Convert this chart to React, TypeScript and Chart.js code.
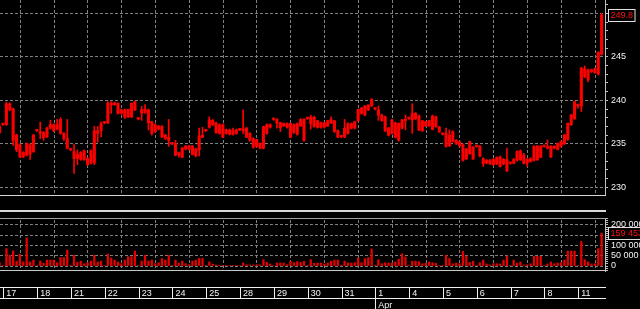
import React, { useEffect, useRef } from 'react';
import { Chart, registerables } from 'chart.js';

Chart.register(...registerables);

// ---- categories / tick labels ----
const dayLabels = ['17', '18', '21', '22', '23', '24', '25', '28', '29', '30', '31', '1', '4', '5', '6', '7', '8', '11'];
const monthLabels = ['', '', '', '', '', '', '', '', '', '', '', 'Apr', '', '', '', '', '', ''];
const BARS_PER_DAY = 10;
const FIRST_DAY_BAR = 1;
const priceGridValues = [230, 235, 240, 245, 250];
const priceLabels = [230, 235, 240, 245];
const volumeGridValues = [0, 50000, 100000, 150000, 200000];
const volumeLabels = [0, 50000, 100000, 200000];

// ---- series (hourly bars) ----
const open = [236.3,
  237.2, 237.2, 239.6, 239.0, 236.0, 234.9, 234.0, 233.7, 234.9, 234.1,
  236.5, 236.2, 236.3, 235.8, 236.8, 237.2, 236.7, 236.2, 236.2, 235.6,
  234.3, 234.1, 233.3, 234.0, 233.2, 233.3, 232.8, 232.8, 236.5, 236.5,
  237.4, 237.4, 239.5, 239.7, 239.65, 238.9, 238.9, 238.1, 238.1, 238.9,
  237.85, 238.5, 238.95, 238.9, 237.55, 236.4, 237.05, 237.0, 236.0, 235.75,
  235.0, 235.05, 233.7, 234.5, 234.4, 234.75, 234.75, 233.6, 234.3, 235.75,
  236.5, 236.9, 237.7, 237.4, 236.2, 237.2, 236.2, 236.6, 236.1, 236.6,
  236.6, 236.5, 236.8, 236.2, 235.6, 234.7, 235.05, 234.5, 237.2, 236.9,
  237.8, 237.8, 237.4, 237.05, 237.3, 237.35, 236.3, 236.1, 237.05, 237.8,
  237.9, 237.3, 238.05, 237.65, 236.9, 237.4, 237.05, 237.4, 237.65, 236.5,
  235.8, 235.75, 236.2, 237.3, 236.8, 237.65, 238.5, 238.3, 238.9, 239.35,
  239.0, 238.9, 238.3, 238.1, 236.8, 236.2, 237.4, 235.4, 237.75, 237.65,
  237.9, 237.75, 238.5, 238.2, 236.5, 237.55, 237.05, 236.65, 238.1, 236.95,
  236.1, 236.2, 234.75, 236.4, 235.4, 235.25, 234.9, 233.25, 233.85, 234.6,
  234.7, 234.75, 233.3, 232.8, 233.15, 232.6, 233.45, 232.4, 233.2, 233.2,
  232.75, 232.75, 233.1, 234.2, 232.75, 233.2, 232.95, 233.1, 234.75, 233.45,
  234.7, 234.5, 234.7, 234.5, 234.35, 234.7, 235.0, 235.5, 237.2, 237.9,
  239.35, 239.35, 243.6, 242.35, 243.3, 243.2, 243.0, 245.3];

const high = [237.1,
  237.3, 239.8, 239.7, 239.1, 236.1, 235.0, 234.1, 235.1, 235.0, 236.1,
  236.6, 237.5, 236.4, 236.9, 237.7, 237.3, 237.8, 238.0, 236.3, 237.8,
  234.4, 234.9, 234.3, 234.1, 234.3, 233.4, 234.3, 237.0, 237.0, 237.5,
  237.5, 239.85, 239.85, 239.8, 239.7, 239.0, 239.0, 239.0, 239.7, 239.9,
  237.95, 239.3, 239.5, 239.0, 237.6, 237.3, 237.1, 237.1, 236.1, 237.8,
  235.1, 235.4, 234.0, 234.6, 234.8, 234.8, 234.8, 234.5, 236.8, 236.9,
  236.6, 238.1, 237.8, 237.5, 237.3, 237.3, 236.7, 236.7, 236.8, 236.7,
  236.7, 238.9, 236.9, 236.3, 235.7, 235.5, 235.1, 237.0, 237.3, 237.3,
  237.9, 237.9, 237.5, 237.4, 237.4, 237.4, 237.3, 237.4, 237.9, 237.9,
  238.0, 238.3, 238.2, 237.7, 237.5, 237.5, 237.7, 238.1, 237.7, 236.6,
  235.9, 237.8, 237.4, 237.4, 237.6, 239.0, 239.2, 239.4, 239.5, 240.2,
  239.1, 239.35, 238.4, 238.2, 236.9, 237.8, 237.5, 237.4, 237.8, 238.3,
  238.0, 239.6, 238.6, 238.3, 237.7, 237.6, 237.7, 238.3, 238.2, 237.0,
  236.2, 236.8, 236.6, 236.5, 235.5, 235.3, 235.0, 234.5, 235.3, 234.7,
  234.8, 234.8, 233.4, 233.2, 233.2, 233.3, 233.5, 233.6, 233.3, 234.5,
  232.85, 233.3, 234.2, 234.3, 233.9, 233.3, 233.4, 234.8, 234.8, 234.8,
  234.8, 235.45, 234.8, 234.8, 235.1, 235.3, 236.1, 237.4, 238.4, 239.9,
  239.6, 243.8, 243.95, 243.6, 243.6, 243.7, 245.6, 250.0];

const low = [236.2,
  237.1, 237.1, 238.8, 234.8, 234.1, 233.4, 233.4, 233.6, 233.2, 234.0,
  236.4, 235.6, 235.4, 235.7, 236.7, 236.4, 236.6, 236.1, 235.4, 234.4,
  234.2, 231.6, 232.6, 233.1, 233.1, 232.5, 232.7, 232.6, 235.2, 235.8,
  237.3, 237.3, 238.5, 239.4, 238.4, 238.4, 237.9, 238.0, 238.0, 238.8,
  237.75, 237.7, 238.5, 236.6, 236.0, 236.3, 236.6, 235.7, 235.5, 234.7,
  234.9, 233.6, 233.45, 233.4, 234.3, 234.3, 233.7, 233.5, 233.6, 235.7,
  236.4, 236.8, 237.1, 236.2, 236.1, 235.7, 236.1, 236.0, 236.0, 236.1,
  236.5, 236.2, 235.7, 235.3, 234.5, 234.6, 234.4, 234.4, 236.1, 236.8,
  237.7, 236.8, 236.4, 237.0, 236.8, 235.7, 236.2, 236.0, 237.0, 235.3,
  237.8, 236.7, 236.9, 236.8, 236.8, 236.8, 237.0, 237.3, 236.3, 235.7,
  235.7, 235.7, 236.1, 236.7, 236.7, 237.6, 238.4, 238.2, 238.8, 239.3,
  238.9, 237.7, 237.6, 236.4, 235.9, 236.1, 235.7, 235.3, 236.7, 236.6,
  237.8, 236.2, 237.8, 236.5, 236.4, 237.0, 237.0, 236.6, 236.9, 236.3,
  236.0, 234.6, 234.7, 235.2, 234.9, 234.7, 233.0, 233.2, 233.8, 233.2,
  234.6, 233.5, 232.4, 232.7, 232.6, 232.5, 232.6, 232.3, 232.6, 231.8,
  232.65, 232.7, 233.0, 233.1, 232.7, 232.4, 232.9, 233.0, 233.1, 233.4,
  234.6, 234.4, 233.4, 234.4, 234.3, 234.6, 234.9, 235.4, 237.1, 237.8,
  239.1, 238.7, 242.6, 242.15, 243.2, 243.1, 242.9, 245.2];

const close = [237.0,
  237.2, 239.6, 238.9, 235.4, 234.3, 233.5, 233.5, 235.0, 233.8, 236.0,
  236.5, 236.3, 235.7, 236.8, 237.2, 236.5, 237.2, 237.8, 235.6, 234.5,
  234.3, 233.3, 233.8, 233.2, 234.2, 232.6, 234.2, 236.5, 236.2, 237.3,
  237.4, 239.65, 239.65, 239.5, 238.5, 238.5, 238.05, 238.95, 239.65, 239.85,
  237.85, 238.95, 238.6, 237.4, 236.2, 237.2, 236.7, 235.8, 235.6, 235.4,
  235.0, 233.7, 234.0, 233.45, 234.75, 234.4, 233.8, 234.4, 235.9, 236.0,
  236.5, 237.75, 237.2, 236.3, 237.2, 235.75, 236.6, 236.1, 236.5, 236.2,
  236.6, 236.7, 235.75, 235.4, 234.6, 235.5, 234.5, 237.0, 236.2, 237.2,
  237.8, 237.4, 236.85, 237.35, 236.9, 235.75, 237.2, 237.3, 237.8, 235.4,
  237.9, 238.05, 237.0, 236.9, 237.4, 236.9, 237.65, 237.8, 236.4, 235.75,
  235.8, 236.8, 237.3, 236.8, 237.55, 238.95, 239.1, 239.35, 239.45, 240.1,
  239.0, 238.3, 237.65, 236.5, 236.0, 237.75, 235.75, 237.35, 236.8, 237.65,
  237.9, 238.5, 237.85, 236.6, 237.65, 237.05, 237.65, 238.2, 236.95, 236.4,
  236.1, 234.7, 236.0, 235.25, 235.0, 234.75, 233.1, 234.4, 235.25, 233.25,
  234.7, 233.6, 232.7, 233.1, 232.7, 233.2, 232.7, 233.5, 232.7, 231.9,
  232.75, 233.2, 234.1, 233.15, 233.7, 232.75, 233.3, 234.7, 233.15, 234.7,
  234.7, 234.7, 233.5, 234.7, 235.05, 235.25, 236.0, 237.35, 238.3, 239.85,
  239.35, 243.7, 242.7, 243.5, 243.5, 243.6, 245.5, 249.8];

const volume = [15000,
  2000, 85000, 53000, 74000, 23000, 57000, 20000, 137000, 19500, 29000,
  2000, 24000, 13000, 29000, 29000, 29000, 16000, 41000, 41000, 78000,
  2000, 52000, 18000, 23000, 11000, 16000, 24000, 52000, 19500, 24000,
  2000, 58500, 39000, 29000, 19500, 11000, 29000, 45500, 45500, 73000,
  2000, 24000, 52000, 24000, 29000, 11000, 16000, 36000, 29000, 52000,
  2000, 29000, 13000, 24000, 11000, 6500, 24000, 29000, 37000, 37000,
  2000, 20000, 9000, 5000, 3000, 3000, 2000, 2000, 2000, 2000,
  2000, 14600, 6500, 5000, 5000, 6500, 5000, 31000, 18000, 10000,
  2000, 14600, 14600, 14600, 6500, 23000, 16000, 21000, 18000, 23000,
  2000, 31000, 13000, 14600, 14600, 10000, 14600, 23000, 29000, 29000,
  2000, 24000, 14600, 14600, 16000, 39000, 16000, 36000, 41000, 83000,
  2000, 31000, 11000, 16000, 14600, 14600, 19500, 32500, 60000, 44000,
  2000, 23000, 24000, 21000, 11000, 13000, 19500, 16000, 13000, 3000,
  2000, 52000, 37000, 11000, 14600, 11000, 71500, 49000, 18000, 23000,
  2000, 16000, 29000, 10000, 5000, 11000, 11000, 10000, 29000, 49000,
  2000, 29000, 13000, 19500, 5000, 6500, 11000, 47000, 47000, 47000,
  2000, 10000, 19500, 11000, 14600, 16000, 29000, 73000, 73000, 73000,
  2000, 120000, 31000, 19500, 10000, 11000, 84500, 159453];

// ---- axis ranges ----
const X_MIN = 0.11;
const X_MAX = 179.0;
const P_MIN = 229.115;
const P_MAX = 251.53;
const V_MIN = -24390;
const V_MAX = 234146;

const FONT = "'Liberation Sans', Arial, sans-serif";
const GRID = '#808080';
const AXIS = '#c0c0c0';
const CLEAR = 'rgba(0,0,0,0)';

const fmtThousands = (v: number) => String(Math.round(v)).replace(/\B(?=(\d{3})+(?!\d))/g, ' ');

function range(a: number, b: number, step: number) {
  const out: number[] = [];
  for (let v = a; v <= b + 1e-9; v += step) out.push(Math.round(v * 1000) / 1000);
  return out;
}

const framePlugin = {
  id: 'frames',
  beforeDatasetsDraw(chart: any) {
    const { ctx, chartArea, scales } = chart;
    const top = scales.y.bottom;
    const bottom = scales.yv.top;
    ctx.save();
    ctx.fillStyle = '#000';
    ctx.fillRect(chartArea.left, top, chartArea.right - chartArea.left, bottom - top);
    ctx.restore();
  },
  afterDraw(chart: any) {
    const { ctx, chartArea, scales } = chart;
    const L = 0;
    const R = chartArea.right + 1;
    const hline = (y: number, color: string, w = 1) => {
      ctx.save();
      ctx.strokeStyle = color;
      ctx.lineWidth = w;
      ctx.beginPath();
      ctx.moveTo(L, y);
      ctx.lineTo(R, y);
      ctx.stroke();
      ctx.restore();
    };
    const yb = Math.round(scales.y.bottom);
    const vt = Math.round(scales.yv.top);
    const vb = Math.round(scales.yv.bottom);
    hline(yb + 0.5, '#d8d8d8');
    hline(Math.round((yb + vt) / 2) + 4, '#d8d8d8', 2);
    hline(vt + 0.5, '#a0a0a0');
    hline(vb - 0.5, '#c8c8c8');
    // date strip
    const stripTop = vb + 16.5;
    const stripBot = vb + 27.5;
    hline(stripTop, '#f0f0f0');
    hline(stripBot, '#f0f0f0');
    const xs = scales.x;
    ctx.save();
    ctx.strokeStyle = '#f0f0f0';
    ctx.lineWidth = 1;
    xs.ticks.forEach((t: any, i: number) => {
      const px = Math.round(xs.getPixelForValue(t.value)) + 0.5;
      ctx.beginPath();
      ctx.moveTo(px, stripTop);
      ctx.lineTo(px, monthLabels[i] ? chart.height : stripBot);
      ctx.stroke();
    });
    ctx.restore();

    // current value markers
    const marker = (y: number, text: string) => {
      ctx.save();
      ctx.font = `9px ${FONT}`;
      const w = ctx.measureText(text).width + 4;
      const x0 = chartArea.right + 3.5;
      const top = Math.round(y - 6) + 0.5;
      ctx.fillStyle = '#000';
      ctx.fillRect(x0, top, w, 12);
      ctx.strokeStyle = '#e0e0e0';
      ctx.lineWidth = 1;
      ctx.strokeRect(x0, top, w, 12);
      ctx.fillStyle = '#ff1010';
      ctx.textBaseline = 'middle';
      ctx.textAlign = 'left';
      ctx.fillText(text, x0 + 2, top + 6.5);
      ctx.restore();
    };
    const n = close.length;
    marker(scales.y.getPixelForValue(close[n - 1]), close[n - 1].toFixed(1));
    marker(scales.yv.getPixelForValue(volume[n - 1]), fmtThousands(volume[n - 1]));
  },
};

export default function App() {
  const ref = useRef<HTMLCanvasElement>(null);

  useEffect(() => {
    const canvas = ref.current;
    if (!canvas) return;
    const n = Math.min(open.length, high.length, low.length, close.length, volume.length);
    const wicks: any[] = [];
    const bodies: any[] = [];
    const vols: any[] = [];
    for (let i = 0; i < n; i++) {
      wicks.push({ x: i, y: [low[i], high[i]] });
      bodies.push({ x: i, y: [open[i], close[i]] });
      vols.push({ x: i, y: volume[i] });
    }
    const dayTicks = dayLabels.map((_, d) => d * BARS_PER_DAY + FIRST_DAY_BAR + 0.1);
    const priceTicks = range(230, 251, 1);
    const volTicks = range(-20000, 230000, 10000);
    const font = { family: FONT, size: 9 };

    const chart = new Chart(canvas, {
      type: 'bar',
      data: {
        datasets: [
          { data: wicks, yAxisID: 'y', xAxisID: 'x', barThickness: 1, backgroundColor: '#ff0000', grouped: false, minBarLength: 1 } as any,
          { data: bodies, yAxisID: 'y', xAxisID: 'x', barThickness: 2.5, backgroundColor: '#f20000', grouped: false, minBarLength: 1.5 } as any,
          { data: vols, yAxisID: 'yv', xAxisID: 'x', barThickness: 1.6, backgroundColor: '#e80000', grouped: false } as any,
        ],
      },
      options: {
        animation: false,
        responsive: false,
        devicePixelRatio: 1,
        events: [],
        layout: { padding: 0, autoPadding: false } as any,
        plugins: { legend: { display: false }, tooltip: { enabled: false }, title: { display: false } },
        scales: {
          x: {
            type: 'linear',
            position: 'bottom',
            min: X_MIN,
            max: X_MAX,
            bounds: 'data',
            offset: false,
            afterBuildTicks: (s: any) => { s.ticks = dayTicks.map((v) => ({ value: v })); },
            afterFit: (s: any) => { s.height = 38; s.paddingLeft = 0; s.paddingRight = 0; },
            grid: { display: true, color: GRID, lineWidth: 1, drawTicks: false, drawOnChartArea: true },
            border: { display: false, dash: [3, 2] },
            ticks: {
              autoSkip: false,
              maxRotation: 0,
              minRotation: 0,
              align: 'start',
              labelOffset: 3,
              padding: 17,
              color: '#f4f4f4',
              font: { ...font, lineHeight: 1.3 },
              callback: (_v: any, idx: number) => (monthLabels[idx] ? [dayLabels[idx], monthLabels[idx]] : dayLabels[idx]),
            },
          } as any,
          y: {
            type: 'linear',
            position: 'right',
            stack: 'panels',
            stackWeight: 195,
            min: P_MIN,
            max: P_MAX,
            bounds: 'data',
            afterBuildTicks: (s: any) => { s.ticks = priceTicks.map((v) => ({ value: v })); },
            afterFit: (s: any) => { s.width = 35; s.paddingTop = 0; s.paddingBottom = 0; },
            grid: {
              color: (c: any) => (c.tick && priceGridValues.includes(c.tick.value) ? GRID : CLEAR),
              tickColor: AXIS,
              tickLength: 3,
              tickWidth: 1,
              lineWidth: 1,
              drawTicks: true,
            },
            border: { display: true, color: AXIS, width: 1, dash: [3, 2] },
            ticks: {
              autoSkip: false,
              padding: 3,
              color: '#f4f4f4',
              font,
              callback: (v: any) => (priceLabels.includes(v) ? String(v) : ''),
            },
          } as any,
          yg: {
            type: 'linear',
            position: 'right',
            stack: 'panels',
            stackWeight: 23,
            min: 0,
            max: 1,
            afterFit: (s: any) => { s.width = 35; s.paddingTop = 0; s.paddingBottom = 0; },
            grid: { display: false },
            border: { display: false },
            ticks: { display: false },
          } as any,
          yv: {
            type: 'linear',
            position: 'right',
            stack: 'panels',
            stackWeight: 53,
            min: V_MIN,
            max: V_MAX,
            bounds: 'data',
            afterBuildTicks: (s: any) => { s.ticks = volTicks.map((v) => ({ value: v })); },
            afterFit: (s: any) => { s.width = 35; s.paddingTop = 0; s.paddingBottom = 0; },
            grid: {
              color: (c: any) => (c.tick && volumeGridValues.includes(c.tick.value) ? GRID : CLEAR),
              tickColor: AXIS,
              tickLength: 3,
              tickWidth: 1,
              lineWidth: 1,
              drawTicks: true,
            },
            border: { display: true, color: AXIS, width: 1, dash: [3, 2] },
            ticks: {
              autoSkip: false,
              padding: 3,
              color: '#f4f4f4',
              font,
              callback: (v: any) => (volumeLabels.includes(v) ? fmtThousands(v) : ''),
            },
          } as any,
        },
      },
      plugins: [framePlugin as any],
    });
    return () => chart.destroy();
  }, []);

  return (
    <div style={{ position: 'absolute', left: 0, top: 0, width: 640, height: 309, background: '#000', overflow: 'hidden' }}>
      <canvas ref={ref} width={640} height={309} style={{ display: 'block', width: 640, height: 309 }} />
    </div>
  );
}
